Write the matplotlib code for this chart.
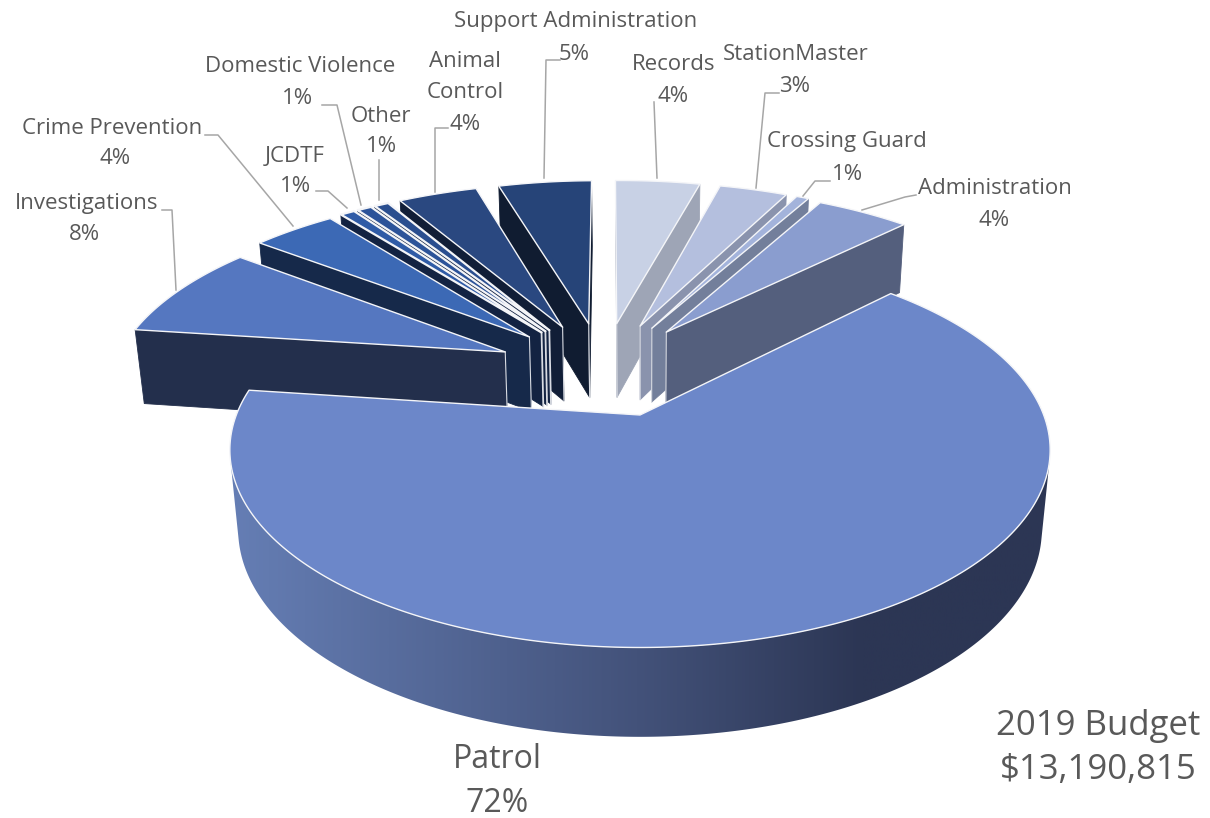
import numpy as np
import matplotlib
matplotlib.use("Agg")
import matplotlib.pyplot as plt
from matplotlib.colors import LinearSegmentedColormap
from matplotlib.patches import Polygon

# clockwise from the top, same order as the chart
categories = ["Records", "StationMaster", "Crossing Guard", "Administration", "Patrol",
              "Investigations", "Crime Prevention", "JCDTF", "Domestic Violence", "Other",
              "Animal\nControl", "Support Administration"]
# drawn slice sizes (they do not add up like the printed labels do)
shares = [4.1, 3.3, 0.6, 4.55, 64.75, 8.25, 4.0, 0.7, 0.7, 0.7, 3.8, 4.5]
pct_labels = ["4%", "3%", "1%", "4%", "72%", "8%", "4%", "1%", "1%", "1%", "4%", "5%"]
budget_title = "2019 Budget\n$13,190,815"

top_colors = ["#c8d1e5", "#b4bfde", "#a3b3db", "#8a9dcf", "#6c87c9", "#5577c0",
              "#3c69b5", "#2f5ba6", "#2c5399", "#2a4e8f", "#2a4880", "#264478"]
wall_colors = ["#9ea5b6", "#8a93ad", "#737f9b", "#545f7d", "#2c3654", "#232f4c",
               "#16294a", "#132342", "#132342", "#132342", "#111e37", "#101c31"]
radii = [1.04, 1.04, 1.04, 1.03, 0.998, 1.01, 1.035, 1.04, 1.04, 1.04, 1.04, 1.04]

# label centre (x, y in picture pixels) for name and percent
name_pos = [(674, 65), (796, 55), (847, 142), (995, 189), (497, 760), (87, 203),
            (112, 128), (295, 156), (300, 67), (381, 116), (465, 77), (576, 21)]
pct_pos = [(673, 97), (795, 87), (847, 175), (994, 221), (497, 803), (84, 234),
           (115, 159), (296, 187), (298, 99), (381, 147), (465, 124), (574, 54)]
leaders = [
    [(654, 102), (657, 178)],
    [(779, 93), (765, 93), (756, 188)],
    [(830, 181), (815, 181), (803, 196)],
    [(916, 195), (905, 197), (862, 210)],
    None,
    [(162, 210), (172, 210), (176, 290)],
    [(205, 135), (218, 135), (293, 226)],
    [(316, 191), (328, 191), (347, 208)],
    [(322, 105), (337, 105), (361, 205)],
    [(379, 160), (379, 200)],
    [(448, 128), (435, 128), (435, 192)],
    [(560, 60), (546, 60), (544, 178)],
]

# camera for the tilted pie
CX, CY = 640, 415
SCALE_X, SCALE_Y = 404.5, 191.8
TILT = 0.177
DEPTH = 80
DEPTH_SHRINK = 0.02
# pie centre before explosion, in pie units
PIE_X, PIE_Y = -0.095, 0.242
EXPLODE = 0.28
START_ANGLE = -0.8
PATROL = categories.index("Patrol")

TEXT_COLOR = "#595959"
LEADER_COLOR = "#a6a6a6"
FONT = "Open Sans"

rim_cmap = LinearSegmentedColormap.from_list(
    "rim", [(0, "#667fb6"), (0.5, "#43527a"), (0.77, "#2c3654"), (1, "#2c3654")])


def project(x, y, z=0.0):
    w = 1 + TILT * y + DEPTH_SHRINK * z
    return CX + SCALE_X * x / w, CY + (-SCALE_Y * y + DEPTH * z) / w


def shoelace(pts):
    xs, ys = np.array(pts).T
    return np.sum(xs * np.roll(ys, -1) - np.roll(xs, -1) * ys)


def draw_slice(ax, a0, a1, top, wall, radius, apex=None, gradient=False, edge_lw=1.0):
    mid = np.radians((a0 + a1) / 2)
    if apex is None:
        apex = (PIE_X + EXPLODE * np.sin(mid), PIE_Y + EXPLODE * np.cos(mid))
    th = np.radians(np.linspace(a0, a1, max(int(a1 - a0) * 2, 8)))
    xs = np.r_[apex[0], apex[0] + radius * np.sin(th), apex[0]]
    ys = np.r_[apex[1], apex[1] + radius * np.cos(th), apex[1]]

    up = np.column_stack(project(xs, ys, 0.0))
    down = np.column_stack(project(xs, ys, 1.0))

    front = []
    for i in range(len(up) - 1):
        quad = [up[i], up[i + 1], down[i + 1], down[i]]
        if shoelace(quad) >= 0:
            continue  # faces away from the camera
        front.append(i)
        if not gradient:
            ax.fill(*np.array(quad).T, color=wall, lw=0.6, zorder=2)
            # thin light line down the inner corner
            if i == 0 or i == len(up) - 2:
                k = 0 if i == 0 else i + 1
                ax.plot(*np.array([up[k], down[k]]).T, color="#d9dce3", lw=0.8 * edge_lw, zorder=2)

    if gradient:
        # Patrol rim: one left-to-right shade clipped to the visible wall
        keep = front + [front[-1] + 1]
        outline = np.vstack([up[keep], down[keep][::-1]])
        clip = Polygon(outline, transform=ax.transData, facecolor="none", edgecolor="none")
        ax.add_patch(clip)
        im = ax.imshow(np.linspace(0, 1, 512)[None, :], cmap=rim_cmap, aspect="auto",
                       extent=(220, 1055, 760, 400), zorder=2)
        im.set_clip_path(clip)

    ax.fill(*up[:-1].T, facecolor=top, edgecolor="#f4f5f8", lw=edge_lw, joinstyle="round", zorder=2)


fig = plt.figure(figsize=(12.1, 8.18), dpi=100)
ax = fig.add_axes([0, 0, 1, 1])
ax.axis("off")

spans = np.array(shares) / np.sum(shares) * 360
stops = START_ANGLE + np.r_[0, np.cumsum(spans)]

# back to front: left fan from the top down, right fan from the top down, Patrol last
order = [11, 10, 9, 8, 7, 6, 5, 0, 1, 2, 3, PATROL]
for idx in order:
    is_patrol = idx == PATROL
    # the three slivers in the left fan read as white stripes
    edge = 1.6 if idx in (7, 8, 9) else 1.0
    draw_slice(ax, stops[idx], stops[idx + 1], top_colors[idx], wall_colors[idx], radii[idx],
               apex=(0.0, 0.0) if is_patrol else None, gradient=is_patrol, edge_lw=edge)

for line in leaders:
    if line is not None:
        ax.plot(*np.array(line).T, color=LEADER_COLOR, lw=1.1, zorder=3)

for i, name in enumerate(categories):
    size = 23 if i == PATROL else 16
    ax.text(*name_pos[i], name, ha="center", va="center", fontsize=size, color=TEXT_COLOR,
            family=FONT, linespacing=1.6)
    ax.text(*pct_pos[i], pct_labels[i], ha="center", va="center", fontsize=size, color=TEXT_COLOR,
            family=FONT)

ax.text(1098, 748, budget_title, ha="center", va="center", fontsize=25, color=TEXT_COLOR,
        family=FONT, linespacing=1.42)

ax.set_xlim(0, 1210)
ax.set_ylim(818, 0)
fig.savefig("out.png", dpi=100)
